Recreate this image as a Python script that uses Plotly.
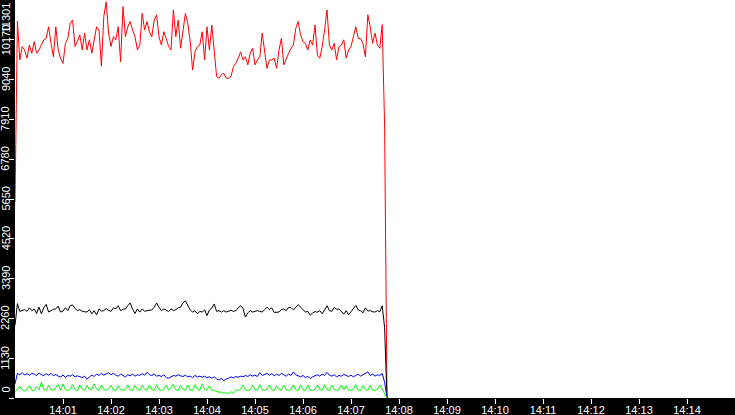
import pandas as pd
import plotly.graph_objects as go

# -----------------------------
# DATA (sampled every 3 s from 14:00:00)
# -----------------------------
START = "2024-01-01 14:00:00"
STEP = "3s"

RED = [
    5560, 10700, 9600, 9980, 9880, 9650, 10020, 9790, 10120, 9790,
    9880, 10020, 10170, 10210, 10540, 10070, 9690, 10540, 9880, 9650,
    9500, 10070, 10210, 10640, 10730, 9980, 10120, 10310, 9880, 10360,
    9880, 10170, 9790, 10170, 10540, 10450, 9420, 10830, 11250, 10360,
    9980, 10260, 10170, 10540, 9550, 11110, 10260, 10540, 10690, 10450,
    10260, 9880, 10020, 10920, 10450, 10690, 10400, 10260, 10730, 10880,
    10260, 10020, 10400, 10210, 9980, 9880, 11020, 10260, 10730, 9930,
    10450, 10920, 10640, 10120, 9310, 9830, 9980, 10020, 10400, 9600,
    10540, 9880, 10590, 9880, 9130, 9080, 9180, 9220, 9080, 9080,
    9130, 9410, 9500, 9650, 9830, 9600, 9690, 9460, 9790, 9930,
    9460, 9600, 9690, 10360, 9880, 9360, 9600, 9600, 9650, 9360,
    9880, 10210, 9460, 9650, 9790, 9930, 10020, 10500, 10690, 10310,
    10120, 10070, 9880, 10170, 10020, 10590, 9740, 9650, 9980, 10450,
    11020, 10020, 9880, 10070, 9600, 9980, 10020, 10170, 9650, 9880,
    9980, 10260, 10540, 10210, 10210, 10070, 9690, 10880, 10540, 10070,
    10360, 10020, 9930, 10600, 7750, 0,
]

BLACK = [
    2060, 2680, 2460, 2480, 2510, 2460, 2560, 2480, 2530, 2400,
    2580, 2390, 2560, 2660, 2440, 2480, 2520, 2530, 2610, 2440,
    2470, 2560, 2480, 2620, 2640, 2550, 2480, 2510, 2460, 2450,
    2440, 2510, 2390, 2480, 2360, 2530, 2470, 2480, 2540, 2490,
    2460, 2560, 2530, 2620, 2480, 2520, 2530, 2620, 2700, 2520,
    2400, 2530, 2440, 2530, 2460, 2480, 2480, 2500, 2580, 2700,
    2580, 2480, 2530, 2500, 2460, 2530, 2480, 2510, 2560, 2580,
    2700, 2760, 2610, 2500, 2440, 2480, 2390, 2460, 2440, 2500,
    2340, 2500, 2550, 2670, 2460, 2480, 2440, 2480, 2440, 2470,
    2490, 2460, 2480, 2560, 2620, 2540, 2300, 2420, 2480, 2440,
    2450, 2480, 2460, 2440, 2510, 2580, 2510, 2560, 2430, 2440,
    2440, 2510, 2530, 2480, 2570, 2570, 2500, 2580, 2650, 2580,
    2500, 2440, 2460, 2350, 2420, 2450, 2440, 2480, 2390, 2500,
    2620, 2480, 2460, 2570, 2520, 2530, 2460, 2380, 2480, 2360,
    2450, 2560, 2630, 2500, 2480, 2420, 2560, 2470, 2480, 2450,
    2440, 2480, 2450, 2620, 2000, 0,
]

BLUE = [
    400, 700, 660, 720, 650, 690, 640, 700, 680, 630,
    710, 660, 640, 690, 650, 700, 630, 670, 620, 600,
    650, 590, 640, 620, 660, 600, 630, 610, 580, 620,
    530, 600, 650, 610, 680, 640, 700, 650, 690, 720,
    660, 700, 650, 620, 680, 640, 600, 660, 630, 680,
    620, 660, 640, 690, 650, 730, 660, 640, 680, 620,
    640, 610, 660, 580, 560, 600, 640, 620, 660, 630,
    610, 650, 600, 620, 580, 640, 600, 620, 590, 620,
    580, 600, 560, 600, 540, 510, 560, 490, 540, 560,
    600, 570, 610, 590, 620, 600, 640, 610, 660, 620,
    650, 610, 720, 640, 660, 700, 650, 690, 630, 680,
    640, 700, 660, 620, 680, 640, 740, 660, 630, 600,
    640, 580, 620, 550, 600, 640, 660, 620, 680, 640,
    730, 650, 620, 660, 600, 640, 620, 670, 630, 610,
    650, 600, 640, 680, 620, 660, 700, 740, 640, 680,
    620, 660, 640, 700, 450, 0,
]

GREEN = [
    180, 260, 330, 230, 200, 240, 350, 220, 210, 320,
    230, 450, 240, 220, 360, 230, 210, 300, 380, 230,
    400, 240, 210, 250, 380, 240, 210, 370, 260, 220,
    360, 230, 240, 400, 250, 210, 370, 240, 220, 260,
    360, 230, 210, 350, 240, 220, 250, 370, 230, 210,
    350, 240, 220, 360, 250, 210, 370, 230, 220, 380,
    240, 210, 250, 360, 230, 300, 390, 230, 210, 360,
    240, 220, 370, 230, 210, 380, 240, 220, 410, 250,
    220, 350, 230, 210, 180, 160, 170, 140, 150, 120,
    180, 130, 230, 220, 250, 370, 230, 210, 240, 360,
    230, 220, 380, 240, 210, 250, 360, 230, 210, 350,
    240, 220, 360, 230, 210, 250, 370, 230, 220, 360,
    240, 210, 370, 230, 210, 250, 360, 240, 220, 380,
    230, 210, 360, 240, 220, 250, 370, 230, 350, 220,
    210, 250, 380, 230, 210, 350, 240, 220, 360, 230,
    210, 240, 370, 260, 150, 0,
]

X_TICKS = ["14:01", "14:02", "14:03", "14:04", "14:05", "14:06", "14:07",
           "14:08", "14:09", "14:10", "14:11", "14:12", "14:13", "14:14"]
Y_MAX = 11301
Y_TICKS = [0, 1130.1, 2260.2, 3390.3, 4520.4, 5650.5, 6780.6, 7910.7, 9040.8, 10170.9]
Y_LABELS = ["0", "1130", "2260", "3390", "4520", "5650", "6780", "7910", "9040", "10170"]
TOP_LABEL = "11301"

times = pd.date_range(START, periods=len(RED), freq=STEP)
day = START[:10]

FONT = "Liberation Sans, Arial, sans-serif"

fig = go.Figure()
for vals, col in [(RED, "#ff0000"), (BLACK, "#000000"), (BLUE, "#0000ff"), (GREEN, "#00ff00")]:
    fig.add_trace(go.Scatter(x=times, y=vals, mode="lines",
                             line=dict(color=col, width=1), showlegend=False))

fig.update_layout(
    width=735, height=415,
    margin=dict(l=15, r=0, t=0, b=17, autoexpand=False),
    paper_bgcolor="black",
    plot_bgcolor="white",
    font=dict(family=FONT, size=11, color="white"),
    showlegend=False,
)

fig.update_xaxes(
    range=[f"{day} 14:00:00", f"{day} 14:15:00"],
    tickvals=[f"{day} {t}:00" for t in X_TICKS],
    ticktext=X_TICKS,
    ticks="outside", ticklen=5, tickcolor="white", tickwidth=1,
    ticklabelstandoff=-3,
    showgrid=False, zeroline=False, showline=False, automargin=False,
    tickfont=dict(family=FONT, size=11, color="white"),
)

# y labels are written as rotated annotations so they fit in the thin left bar
fig.update_yaxes(
    range=[0, Y_MAX],
    tickvals=Y_TICKS,
    showticklabels=False,
    ticks="outside", ticklen=5, tickcolor="white", tickwidth=1,
    showgrid=False, zeroline=False, showline=False, automargin=False,
)

for v, lab in zip(Y_TICKS, Y_LABELS):
    fig.add_annotation(
        text=lab, textangle=-90,
        xref="paper", yref="y", x=0, y=v,
        xanchor="center", yanchor="middle", xshift=-9.5,
        yshift=8 if v == 0 else 0,
        showarrow=False, font=dict(family=FONT, size=11, color="white"),
    )

fig.add_annotation(
    text=TOP_LABEL, textangle=-90,
    xref="paper", yref="paper", x=0, y=1,
    xanchor="center", yanchor="top", xshift=-9.5, yshift=-1,
    showarrow=False, font=dict(family=FONT, size=11, color="white"),
)

# page has an 8px body margin by default -> remove it
fig.write_html("out.html", config={"displayModeBar": False},
               post_script="document.body.style.margin='0';")
